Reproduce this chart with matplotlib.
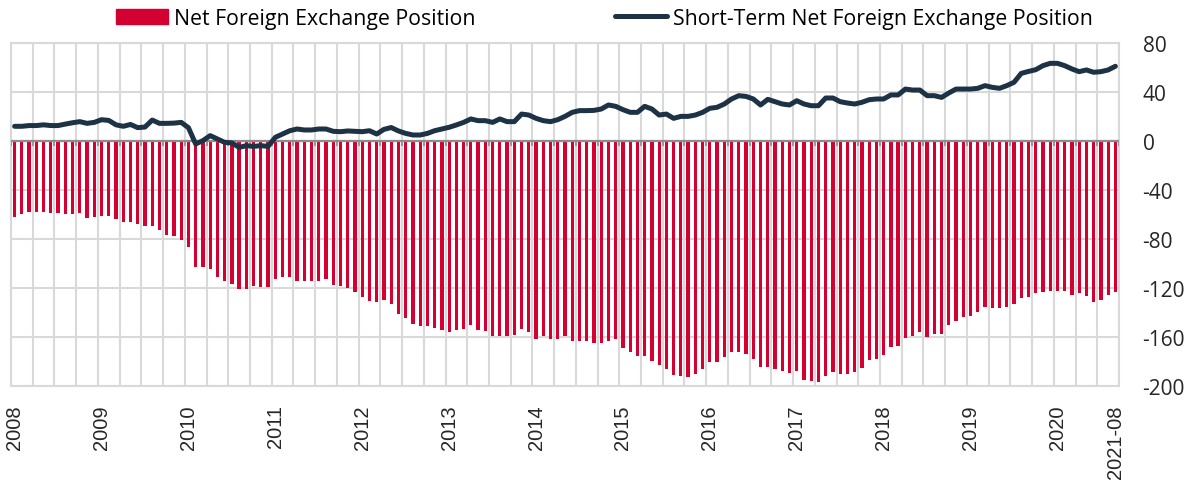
import numpy as np
import pandas as pd
import matplotlib
matplotlib.use('Agg')
import matplotlib.pyplot as plt
from matplotlib.lines import Line2D
from matplotlib.patches import Patch

plt.rcParams['axes.unicode_minus'] = False

# monthly data, 2008-12 .. 2021-08
months = pd.period_range('2008-12', '2021-08', freq='M')

net_fx = [
    -62.3, -59.6, -58.2, -58.2, -58.2, -58.8, -58.8, -59.6, -59.6, -59.0,
    -62.9, -62.3, -60.9, -61.4, -63.6, -66.4, -65.8, -67.8, -69.6, -69.6,
    -72.4, -76.5, -77.8, -80.5, -86.8, -103.1, -103.1, -104.5, -110.7, -114.0,
    -116.7, -120.8, -120.8, -118.6, -118.9, -118.9, -112.7, -111.3, -111.3, -114.6,
    -114.6, -114.6, -114.0, -112.7, -117.6, -118.6, -120.3, -123.5, -127.6, -130.3,
    -131.7, -130.0, -133.0, -141.0, -144.8, -149.4, -150.7, -150.7, -152.7, -154.0,
    -156.2, -154.0, -153.5, -149.9, -154.3, -155.0, -159.5, -159.0, -159.0, -158.4,
    -153.5, -156.2, -161.6, -159.0, -161.6, -162.0, -159.5, -163.0, -163.0, -163.0,
    -165.0, -164.5, -163.5, -161.6, -169.0, -172.0, -175.2, -175.2, -179.3, -182.9,
    -186.1, -191.0, -191.5, -192.4, -190.2, -186.1, -180.1, -180.1, -176.6, -172.5,
    -172.0, -173.9, -178.0, -184.8, -184.8, -185.8, -187.5, -189.6, -187.5, -194.8,
    -196.2, -197.0, -191.6, -188.8, -190.2, -190.2, -188.8, -185.6, -178.5, -178.0,
    -174.7, -168.4, -167.6, -161.1, -159.5, -156.2, -160.3, -157.6, -157.6, -150.2,
    -146.7, -143.9, -143.2, -139.9, -135.2, -136.6, -136.6, -135.2, -133.0, -128.4,
    -127.6, -124.4, -123.0, -122.2, -122.2, -122.7, -125.7, -124.4, -126.8, -131.7,
    -129.5, -125.7, -123.5,
]

short_term_fx = [
    12.0, 12.0, 12.6, 12.6, 13.2, 12.6, 12.6, 13.8, 14.9, 15.8,
    14.4, 15.2, 17.4, 16.8, 13.2, 12.0, 13.5, 10.9, 11.4, 17.1,
    14.4, 14.4, 14.6, 15.2, 10.9, -2.4, 0.3, 4.4, 1.6, -1.1,
    -1.6, -5.2, -3.8, -4.4, -3.8, -4.4, 3.0, 5.7, 8.4, 9.8,
    9.0, 9.0, 9.8, 9.8, 7.9, 7.6, 8.2, 7.9, 7.6, 8.4,
    5.7, 9.5, 11.0, 8.2, 6.2, 4.9, 4.9, 6.2, 8.4, 9.8,
    11.2, 13.1, 15.2, 18.0, 16.6, 16.6, 15.2, 18.0, 15.8, 15.8,
    22.0, 21.2, 18.5, 16.6, 15.8, 17.4, 20.1, 23.4, 24.8, 24.8,
    25.0, 26.1, 29.4, 28.3, 25.6, 23.4, 23.4, 28.3, 26.1, 21.2,
    22.0, 18.5, 20.1, 20.1, 21.2, 23.4, 26.7, 27.5, 30.2, 34.3,
    37.0, 36.4, 34.3, 29.4, 34.0, 32.1, 30.2, 29.4, 32.9, 30.2,
    28.8, 28.8, 35.1, 35.1, 32.1, 31.0, 30.2, 31.6, 33.7, 34.3,
    34.3, 37.6, 37.6, 42.4, 41.6, 41.6, 37.0, 37.0, 35.6, 39.2,
    42.4, 42.4, 42.4, 43.0, 45.2, 43.8, 43.0, 45.2, 47.9, 55.2,
    56.8, 58.2, 61.5, 63.4, 63.4, 61.5, 58.8, 56.6, 58.0, 56.1,
    56.6, 58.0, 61.0,
]

RED = '#d50032'
NAVY = '#1d3245'
GRID = '#d9d9d9'

x = np.arange(len(months))
net_fx = np.array(net_fx)
short_term_fx = np.array(short_term_fx)

# label every december plus the last month
tick_pos = [i for i, m in enumerate(months) if m.month == 12]
tick_lab = [str(months[i].year) for i in tick_pos]
tick_pos.append(len(months) - 1)
tick_lab.append(months[-1].strftime('%Y-%m'))

fig = plt.figure(figsize=(11.93, 4.85), dpi=100)
ax = fig.add_axes([11 / 1193, 1 - 387 / 485, (1119 - 11) / 1193, (387 - 44) / 485])

ax.bar(x, net_fx, width=0.45, color=RED, zorder=2)
ax.axhline(0, color='#8c8c8c', lw=1.6, zorder=3)
bounds = np.arange(-0.5, len(months), 3)
ax.vlines(bounds, -4, 0, color='#8c8c8c', lw=1.2, zorder=3)
ax.plot(x, short_term_fx, color=NAVY, lw=3.6, solid_capstyle='round',
        solid_joinstyle='round', zorder=4)

ax.set_xlim(-0.5, len(months) - 0.5)
ax.set_ylim(-200, 80)
ax.set_yticks(np.arange(-200, 81, 40))
ax.yaxis.tick_right()
ax.set_xticks(tick_pos)
ax.set_xticklabels(tick_lab, rotation=90, family='Liberation Sans', fontsize=14.5)
ax.set_xticks(bounds, minor=True)
ax.tick_params(axis='x', which='both', length=0, pad=13)
ax.tick_params(axis='y', length=0, pad=17, labelsize=15, colors='#262626')
for lab in ax.get_yticklabels():
    lab.set_family('Open Sans')
ax.tick_params(axis='x', colors='#262626')

ax.grid(axis='y', color=GRID, lw=1.5, zorder=0)
ax.grid(axis='x', which='minor', color=GRID, lw=1.5, zorder=0)
ax.set_axisbelow(True)
for s in ax.spines.values():
    s.set_color(GRID)
    s.set_linewidth(1.5)

handles = [Patch(color=RED), Line2D([0], [0], color=NAVY, lw=3.6, solid_capstyle='round')]
fig.legend(handles, ['Net Foreign Exchange Position', 'Short-Term Net Foreign Exchange Position'],
           loc='center left', bbox_to_anchor=(105 / 1193, 1 - 19 / 485), ncol=2,
           frameon=False, borderpad=0, handlelength=2.45, handletextpad=0.28,
           columnspacing=6.6, prop={'family': 'Open Sans', 'size': 15.3})

fig.savefig('out.png', dpi=100)
